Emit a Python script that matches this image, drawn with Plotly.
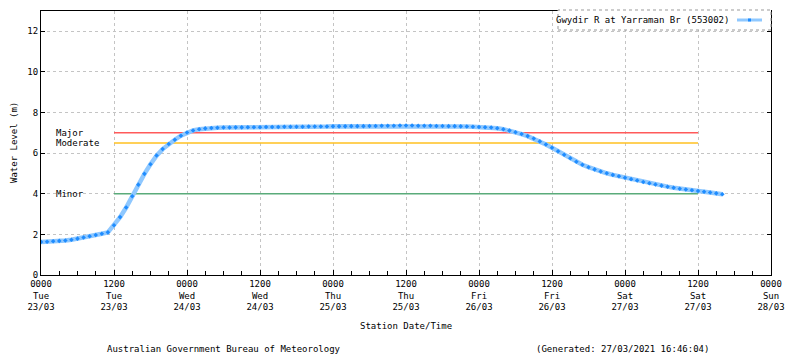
import plotly.graph_objects as go
import pandas as pd

# ---------------- data ----------------
start_time = "2021-03-23 00:00"
# hourly water level readings (m) from 23/03 00:00
water_level = [
    1.63, 1.64, 1.66, 1.68, 1.70, 1.74, 1.79, 1.85, 1.91, 1.97, 2.03, 2.10,
    2.45, 2.85, 3.32, 3.88, 4.45, 4.98, 5.45, 5.88, 6.20, 6.45, 6.66, 6.86,
    7.02, 7.12, 7.18, 7.22, 7.24,
    7.25, 7.26, 7.26, 7.27, 7.27, 7.28, 7.28, 7.28, 7.29, 7.29, 7.29, 7.30,
    7.30, 7.30, 7.30, 7.31, 7.31, 7.31, 7.31,
    7.32, 7.32, 7.32, 7.33, 7.33, 7.33, 7.34, 7.34, 7.35, 7.35, 7.35, 7.36,
    7.36, 7.36, 7.35, 7.35, 7.35, 7.34, 7.34, 7.33, 7.33, 7.32, 7.31,
    7.30, 7.29, 7.28,
    7.26, 7.23, 7.18, 7.11, 7.03, 6.94, 6.84, 6.72, 6.58, 6.43, 6.27,
    6.09, 5.92, 5.75, 5.58, 5.43, 5.31, 5.20, 5.10, 5.01, 4.93, 4.86, 4.79,
    4.72, 4.65, 4.58, 4.52, 4.46, 4.40, 4.35, 4.30, 4.25, 4.21, 4.17, 4.14,
    4.10, 4.06, 4.02, 3.98,
]
series_name = "Gwydir R at Yarraman Br (553002)"

threshold_names = ["Minor", "Moderate", "Major"]
threshold_levels = [4.0, 6.5, 7.0]
threshold_colors = ["#5aab7a", "#ffc020", "#ff5a5a"]
threshold_start = "2021-03-23 12:00"
threshold_end = "2021-03-27 12:00"

tick_hours = ["0000", "1200", "0000", "1200", "0000", "1200", "0000", "1200", "0000", "1200", "0000"]
tick_days = ["Tue", "Tue", "Wed", "Wed", "Thu", "Thu", "Fri", "Fri", "Sat", "Sat", "Sun"]
tick_dates = ["23/03", "23/03", "24/03", "24/03", "25/03", "25/03", "26/03", "26/03", "27/03", "27/03", "28/03"]
y_ticks = [0, 2, 4, 6, 8, 10, 12]

x_title = "Station Date/Time"
y_title = "Water Level (m)"
footer_left = "Australian Government Bureau of Meteorology"
footer_right = "(Generated: 27/03/2021 16:46:04)"

# ---------------- figure ----------------
times = pd.date_range(start_time, periods=len(water_level), freq="1h")
tick_vals = pd.date_range(start_time, periods=len(tick_hours), freq="12h")
tick_text = [f"{h}<br>{d}<br>{dt}" for h, d, dt in zip(tick_hours, tick_days, tick_dates)]

FONT = "DejaVu Sans Mono"
OFF = 8                      # page body margin of the html page
W, H = 800 - OFF, 358 - OFF  # figure size so that the page is 800x358
L, T, PW, PH = 41, 11, 730, 264  # plot area in page pixels


def px(x):
    return (x - L) / PW


def py(y):
    return (T + PH - y) / PH


fig = go.Figure()

for name, lvl, col in zip(threshold_names, threshold_levels, threshold_colors):
    fig.add_trace(go.Scatter(
        x=[threshold_start, threshold_end], y=[lvl, lvl], mode="lines",
        line=dict(color=col, width=1.5), showlegend=False, hoverinfo="skip"))
    fig.add_annotation(
        xref="paper", yref="y", x=px(54), y=lvl, text=name, showarrow=False,
        xanchor="left", yanchor="middle", font=dict(family=FONT, size=9, color="#000"))

fig.add_trace(go.Scatter(
    x=times, y=water_level, mode="lines+markers", name=series_name,
    line=dict(color="#8fc8ff", width=4.5),
    marker=dict(symbol="diamond", size=3.5, color="#1e8cff", line=dict(width=0)),
    showlegend=False))

fig.update_layout(
    width=W, height=H,
    margin=dict(l=L - OFF, r=W - (L - OFF) - PW, t=T - OFF, b=H - (T - OFF) - PH, autoexpand=False),
    paper_bgcolor="white", plot_bgcolor="white",
    font=dict(family=FONT, size=9, color="#000"),
    showlegend=False,
)
fig.update_xaxes(
    type="date", range=[tick_vals[0], tick_vals[-1]],
    tickvals=tick_vals, ticktext=tick_text, automargin=False,
    showgrid=True, gridcolor="#c4c4c4", griddash="dot", gridwidth=1,
    showline=True, linecolor="#000", linewidth=1, mirror=True,
    ticks="inside", ticklen=5, tickcolor="#000",
    minor=dict(dtick=3 * 3600 * 1000, ticks="inside", ticklen=4, tickcolor="#000", showgrid=False),
    tickfont=dict(family=FONT, size=9), zeroline=False,
)
fig.update_yaxes(
    range=[0, 13], tickvals=y_ticks, automargin=False,
    showgrid=True, gridcolor="#c4c4c4", griddash="dot", gridwidth=1,
    showline=True, linecolor="#000", linewidth=1, mirror="ticks",
    ticks="inside", ticklen=4, tickcolor="#000",
    tickfont=dict(family=FONT, size=9), zeroline=False,
)

# y axis title
fig.add_annotation(xref="paper", yref="paper", x=px(14), y=0.5, text=y_title, textangle=-90,
                   showarrow=False, xanchor="center", yanchor="middle")
# x axis title and footer
fig.add_annotation(xref="paper", yref="paper", x=px(406), y=py(326), text=x_title,
                   showarrow=False, xanchor="center", yanchor="middle")
fig.add_annotation(xref="paper", yref="paper", x=px(224), y=py(349), text=footer_left,
                   showarrow=False, xanchor="center", yanchor="middle")
fig.add_annotation(xref="paper", yref="paper", x=px(622), y=py(349), text=footer_right,
                   showarrow=False, xanchor="center", yanchor="middle")

# legend box (drawn manually, sample on the right like the original)
fig.add_shape(type="rect", xref="paper", yref="paper",
              x0=px(558), x1=1.0, y0=py(30), y1=py(10),
              fillcolor="white", line=dict(color="#999", width=1, dash="dot"), layer="above")
fig.add_annotation(xref="paper", yref="paper", x=px(731), y=py(20),
                   text=series_name, showarrow=False, xanchor="right", yanchor="middle")
fig.add_shape(type="line", xref="paper", yref="paper",
              x0=px(737), x1=px(762), y0=py(20), y1=py(20),
              line=dict(color="#8fc8ff", width=3), layer="above")
fig.add_shape(type="rect", xref="paper", yref="paper",
              x0=px(748), x1=px(751), y0=py(21.5), y1=py(18.5),
              fillcolor="#1e8cff", line=dict(width=0), layer="above")

fig.write_html("out.html")
